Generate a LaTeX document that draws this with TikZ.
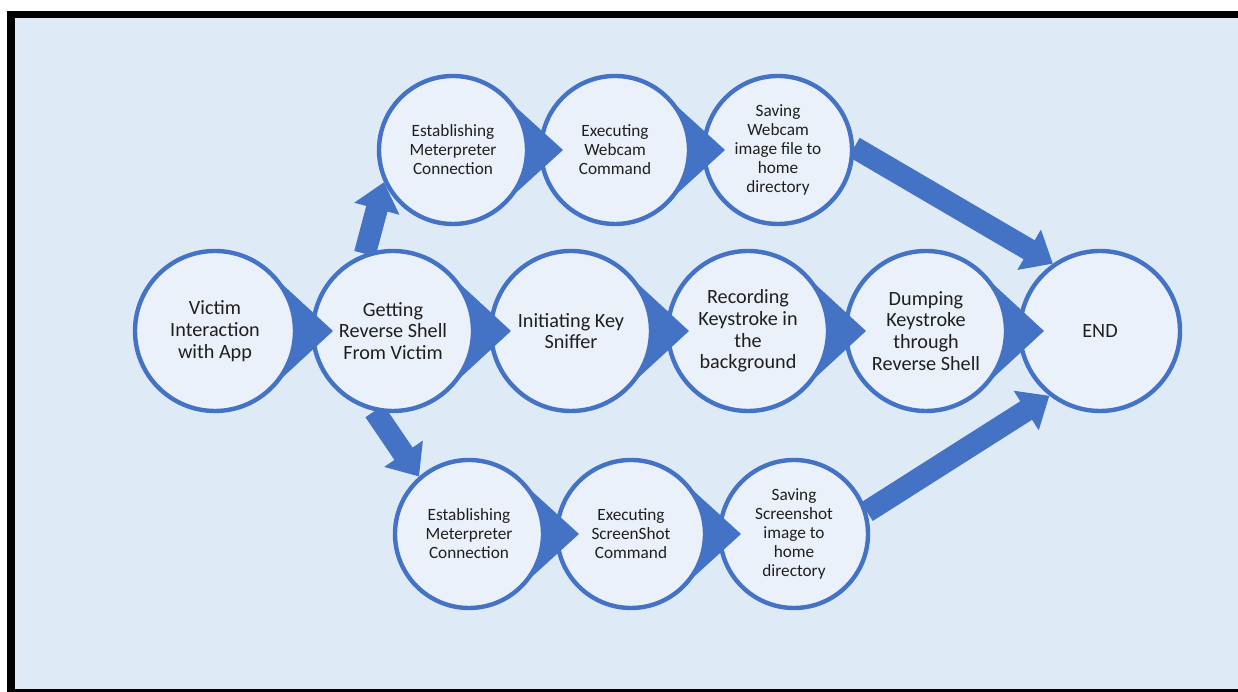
\documentclass[tikz,border=0pt]{standalone}
\usepackage{fontspec}
\setmainfont{Carlito}
\usepackage{xcolor}
\usetikzlibrary{arrows.meta,calc}

\definecolor{bgblue}{HTML}{DEEAF6}
\definecolor{ringblue}{HTML}{4472C4}
\definecolor{discfill}{HTML}{EBF1FA}

\pgfdeclarelayer{paper}
\pgfdeclarelayer{links}
\pgfsetlayers{paper,links,main}

\tikzset{
  bigdisc/.style={circle,draw=ringblue,fill=discfill,line width=2.5pt,minimum size=3.2cm,inner sep=0pt,align=center,text=black!88,font=\fontsize{11.5}{12.4}\selectfont},
  smalldisc/.style={bigdisc,minimum size=2.96cm,font=\fontsize{9.8}{10.8}\selectfont},
  ringptr/.style={fill=ringblue},
  fatarrow/.style={draw=ringblue,line width=12.5pt,-{Triangle[length=0.55cm,width=0.9cm]}}
}
\newcommand{\ringtip}[3]{\fill[ringptr] ($(#1.center)+({acos(#2/#3)}:#2cm)$) -- ($(#1.center)+(#3cm,0)$) -- ($(#1.center)+({-acos(#2/#3)}:#2cm)$) arc[start angle={-acos(#2/#3)},end angle={acos(#2/#3)},radius=#2cm] -- cycle;}

\begin{document}
\begin{tikzpicture}
\useasboundingbox (0,0) rectangle (24.76,13.84);
\begin{pgfonlayer}{paper}
\fill[white] (0,0) rectangle (24.76,13.84);
\fill[black] (0.14,0) rectangle (25.2,13.62);
\fill[bgblue] (0.30,0.06) rectangle (25.2,13.48);
\end{pgfonlayer}

 \node[bigdisc] (vi) at (4.30,7.22) {Victim\\Interaction\\with App};
 \node[bigdisc] (gr) at (7.86,7.22) {Getting\\Reverse Shell\\From Victim};
 \node[bigdisc] (ik) at (11.42,7.22) {Initiating Key\\Sniffer};
 \node[bigdisc] (rk) at (14.96,7.22) {Recording\\Keystroke in\\the\\background};
 \node[bigdisc] (dk) at (18.52,7.22) {Dumping\\Keystroke\\through\\Reverse Shell};
 \node[bigdisc] (en) at (22.00,7.22) {END};

 \node[smalldisc] (em) at (9.06,10.84) {Establishing\\Meterpreter\\Connection};
 \node[smalldisc] (ew) at (12.30,10.84) {Executing\\Webcam\\Command};
 \node[smalldisc] (sw) at (15.56,10.84) {Saving\\Webcam\\image file to\\home\\directory};

 \node[smalldisc] (bm) at (9.38,3.16) {Establishing\\Meterpreter\\Connection};
 \node[smalldisc] (bs) at (12.62,3.16) {Executing\\ScreenShot\\Command};
 \node[smalldisc] (ss) at (15.88,3.16) {Saving\\Screenshot\\image to\\home\\directory};

\ringtip{vi}{1.6}{2.36}
\ringtip{gr}{1.6}{2.36}
\ringtip{ik}{1.6}{2.36}
\ringtip{rk}{1.6}{2.36}
\ringtip{dk}{1.6}{2.36}
\ringtip{em}{1.48}{2.2}
\ringtip{ew}{1.48}{2.2}
\ringtip{bm}{1.48}{2.2}
\ringtip{bs}{1.48}{2.2}

\begin{pgfonlayer}{links}
\draw[fatarrow] (gr.110) -- (em.205);
\draw[fatarrow] (gr.257) -- (bm.131);
\draw[fatarrow] (sw.2) -- (en.125);
\draw[fatarrow] (ss.17) -- (en.232);
\end{pgfonlayer}
\end{tikzpicture}
\end{document}
